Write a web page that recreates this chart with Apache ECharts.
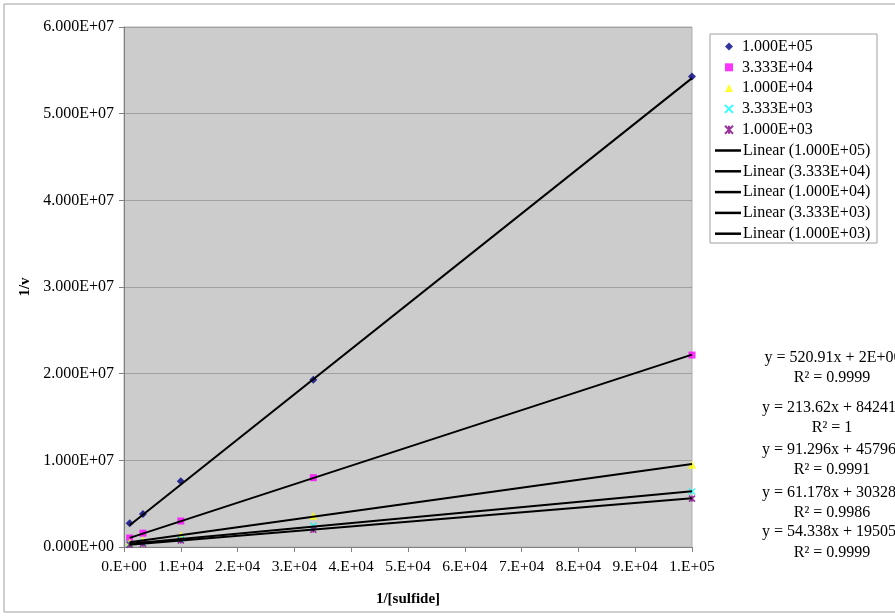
<!DOCTYPE html>
<html>
<head>
<meta charset="utf-8">
<script src="https://cdn.jsdelivr.net/npm/echarts@6/dist/echarts.min.js"></script>
<style>html,body{margin:0;padding:0;background:#fff;}#c{width:895px;height:616px;}</style>
</head>
<body>
<div id="c"></div>
<script>
// ---- data ----
var xValues = [1000, 3333, 10000, 33333, 100000];
var seriesNames = ['1.000E+05', '3.333E+04', '1.000E+04', '3.333E+03', '1.000E+03'];
var s100000 = [2750000, 3800000, 7600000, 19300000, 54300000];
var s33333 = [1040000, 1600000, 3000000, 8000000, 22150000];
var s10000 = [550000, 760000, 1350000, 3600000, 9500000];
var s3333 = [360000, 510000, 910000, 2450000, 6400000];
var s1000 = [250000, 380000, 740000, 1980000, 5580000];
// trendline end points (at x = first and last point)
var trendX = [1000, 100000];
var trend100000 = [2500000, 54100000];
var trend33333 = [1056000, 22200000];
var trend10000 = [550000, 9590000];
var trend3333 = [364000, 6420000];
var trend1000 = [250000, 5630000];
var equations = ['y = 520.91x + 2E+06', 'y = 213.62x + 842413', 'y = 91.296x + 457960', 'y = 61.178x + 303283', 'y = 54.338x + 195052'];
var r2Labels = ['R\u00B2 = 0.9999', 'R\u00B2 = 1', 'R\u00B2 = 0.9991', 'R\u00B2 = 0.9986', 'R\u00B2 = 0.9999'];
var xTickLabels = ['0.E+00','1.E+04','2.E+04','3.E+04','4.E+04','5.E+04','6.E+04','7.E+04','8.E+04','9.E+04','1.E+05'];
var yTickLabels = ['0.000E+00','1.000E+07','2.000E+07','3.000E+07','4.000E+07','5.000E+07','6.000E+07'];

var FONT = "'Liberation Serif', 'Times New Roman', serif";
function pairs(xs, ys) { return xs.map(function (x, i) { return [x, ys[i]]; }); }

var allY = [s100000, s33333, s10000, s3333, s1000];
var allTrend = [trend100000, trend33333, trend10000, trend3333, trend1000];
var symbols = ['diamond', 'rect', 'triangle',
  'path://M0,0L10,10M10,0L0,10',
  'path://M0,0L10,10M10,0L0,10M5,0L5,10'];
var symSizes = [8, 7, 8, 6, 6];
var colors = ['#000080', '#FF00FF', '#FFFF00', '#00FFFF', '#800080'];

var series = [];
for (var i = 0; i < 5; i++) {
  var isPath = symbols[i].indexOf('path://') === 0;
  series.push({
    type: 'scatter', name: seriesNames[i], data: pairs(xValues, allY[i]),
    symbol: symbols[i], symbolSize: symSizes[i],
    itemStyle: isPath ? {color: colors[i], borderColor: colors[i], borderWidth: 1.5} : {color: colors[i]},
    z: 2
  });
}
for (var j = 0; j < 5; j++) {
  series.push({
    type: 'line', name: 'Linear (' + seriesNames[j] + ')', data: pairs(trendX, allTrend[j]),
    symbol: 'none', showSymbol: false,
    lineStyle: {color: '#000', width: 2}, itemStyle: {color: '#000'},
    z: 3, silent: true
  });
}

var graphics = [
  {type: 'rect', shape: {x: 4, y: 4, width: 900, height: 608}, style: {fill: 'none', stroke: '#a0a0a0', lineWidth: 1}, z: 0},
  {type: 'rect', shape: {x: 710, y: 34, width: 167, height: 209}, style: {fill: '#fff', stroke: '#a0a0a0', lineWidth: 1}, z: 1}
];
var eqY = [358, 408, 450, 493, 532];
var r2Y = [378, 428, 470, 513, 553];
for (var k = 0; k < 5; k++) {
  graphics.push({type: 'text', x: 833, y: eqY[k], style: {text: equations[k], font: '16px ' + FONT, fill: '#000', textAlign: 'center', textVerticalAlign: 'middle'}, z: 5});
  graphics.push({type: 'text', x: 832, y: r2Y[k], style: {text: r2Labels[k], font: '16px ' + FONT, fill: '#000', textAlign: 'center', textVerticalAlign: 'middle'}, z: 5});
}

var chart = echarts.init(document.getElementById('c'), null, {renderer: 'canvas'});
var lineLegendData = seriesNames.map(function (n) { return {name: 'Linear (' + n + ')', icon: 'rect'}; });
chart.setOption({
  animation: false,
  backgroundColor: '#fff',
  textStyle: {fontFamily: FONT},
  grid: {left: 124, top: 27, right: 203, bottom: 69, show: true, backgroundColor: '#cccccc', borderColor: '#b0b0b0', borderWidth: 1},
  xAxis: {
    type: 'value', min: 0, max: 100000, interval: 10000,
    name: '1/[sulfide]', nameLocation: 'middle', nameGap: 45,
    nameTextStyle: {fontFamily: FONT, fontSize: 15, fontWeight: 'bold', color: '#000'},
    axisLine: {show: true, onZero: false, lineStyle: {color: '#808080', width: 1}},
    axisTick: {show: true, length: 5, lineStyle: {color: '#808080'}},
    axisLabel: {fontFamily: FONT, fontSize: 15.5, color: '#000', margin: 12,
      formatter: function (v) { return xTickLabels[Math.round(v / 10000)]; }},
    splitLine: {show: false}
  },
  yAxis: {
    type: 'value', min: 0, max: 60000000, interval: 10000000,
    name: '1/v', nameLocation: 'middle', nameGap: 88,
    nameTextStyle: {fontFamily: FONT, fontSize: 15, fontWeight: 'bold', color: '#000'},
    axisLine: {show: true, lineStyle: {color: '#808080', width: 1}},
    axisTick: {show: true, length: 5, lineStyle: {color: '#808080'}},
    axisLabel: {fontFamily: FONT, fontSize: 16, color: '#000', margin: 10,
      formatter: function (v) { return yTickLabels[Math.round(v / 10000000)]; }},
    splitLine: {show: true, lineStyle: {color: '#a0a0a0', width: 1}}
  },
  legend: [
    {orient: 'vertical', left: 724, top: 38.5, padding: 0, itemWidth: 8, itemHeight: 8, itemGap: 4.8,
      data: seriesNames, selectedMode: false,
      textStyle: {fontFamily: FONT, fontSize: 16, color: '#000', lineHeight: 16, padding: [0, 0, 0, 4]}},
    {orient: 'vertical', left: 715, top: 142.5, padding: 0, itemWidth: 26, itemHeight: 2.5, itemGap: 4.8,
      data: lineLegendData, selectedMode: false,
      textStyle: {fontFamily: FONT, fontSize: 16, color: '#000', lineHeight: 16, padding: [0, 0, 0, -3]}}
  ],
  graphic: graphics,
  series: series
});
</script>
</body>
</html>
